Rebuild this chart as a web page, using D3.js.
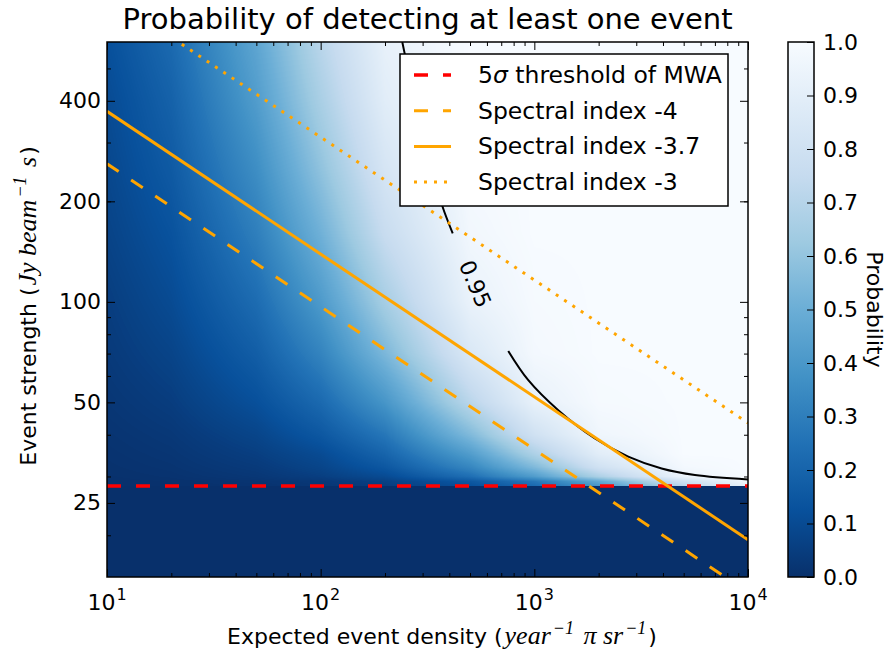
<!DOCTYPE html>
<meta charset="utf-8">
<style>
  body { margin: 0; background: #fff; }
  svg { display: block; font-family: "DejaVu Sans", sans-serif; }
  .math { font-family: "Liberation Serif", serif; font-style: italic; font-size: 26px; }
  .sup { font-family: "Liberation Serif", serif; font-style: italic; font-size: 18px; }
  .tick line { stroke: #000; stroke-width: 1; }
  .tick text { font-size: 22px; fill: #000; }
</style>
<body>
<script src="https://d3js.org/d3.v7.min.js"></script>
<script>

// expected event density (columns) and event strength (rows) of the probability grid
var densities = [10, 20, 50, 100, 200, 500, 1000, 2000, 5000, 10000];
var strengths = [600, 400, 250, 160, 100, 70, 50, 40, 35, 32, 30, 29, 28.1];

// probability of detecting at least one event
var probability = [
  [0.12, 0.22, 0.46, 0.71, 0.92, 1.00, 1.00, 1.00, 1.00, 1.00],
  [0.10, 0.19, 0.42, 0.66, 0.89, 1.00, 1.00, 1.00, 1.00, 1.00],
  [0.085, 0.16, 0.36, 0.59, 0.83, 0.99, 1.00, 1.00, 1.00, 1.00],
  [0.07, 0.13, 0.30, 0.51, 0.76, 0.97, 1.00, 1.00, 1.00, 1.00],
  [0.05, 0.10, 0.23, 0.41, 0.65, 0.93, 0.99, 1.00, 1.00, 1.00],
  [0.038, 0.074, 0.175, 0.32, 0.54, 0.85, 0.98, 1.00, 1.00, 1.00],
  [0.025, 0.049, 0.12, 0.22, 0.39, 0.71, 0.92, 0.99, 1.00, 1.00],
  [0.016, 0.031, 0.077, 0.15, 0.27, 0.55, 0.80, 0.96, 1.00, 1.00],
  [0.011, 0.022, 0.054, 0.10, 0.20, 0.42, 0.67, 0.89, 1.00, 1.00],
  [0.008, 0.016, 0.039, 0.077, 0.15, 0.33, 0.55, 0.80, 0.98, 1.00],
  [0.005, 0.011, 0.027, 0.054, 0.10, 0.24, 0.42, 0.67, 0.94, 1.00],
  [0.003, 0.006, 0.016, 0.031, 0.062, 0.15, 0.27, 0.47, 0.80, 0.96],
  [0.002, 0.005, 0.012, 0.025, 0.049, 0.12, 0.22, 0.39, 0.71, 0.92]
];

// 5 sigma detection threshold of MWA (below it nothing is detected)
var threshold = 28.1;

// spectral index lines, [density, strength] at both ends
var index4 = [[10, 259], [10000, 13.5]];
var index37 = [[10, 372], [10000, 19.4]];
var index3 = [[10, 834], [10000, 43.4]];

// 0.95 contour, split where its label sits
var contourUpper = [[241, 600], [247, 556], [304, 302], [350, 222], [372, 192.7], [415, 160.4]];
var contourLower = [[755, 71.3], [937, 58.3], [1294, 47.4], [1921, 39.0], [2750, 34.4],
                    [3941, 31.7], [5643, 30.3], [10000, 29.4]];

var xMajor = [10, 100, 1000, 10000];
var xExp = ["1", "2", "3", "4"];
var xMinor = [20, 30, 40, 50, 60, 70, 80, 90, 200, 300, 400, 500, 600, 700, 800, 900,
              2000, 3000, 4000, 5000, 6000, 7000, 8000, 9000];
var yMajor = [25, 50, 100, 200, 400];
var yMinor = [20, 30, 40, 60, 70, 80, 90, 200, 300, 500];
var cbTicks = [0, 0.1, 0.2, 0.3, 0.4, 0.5, 0.6, 0.7, 0.8, 0.9, 1.0];

var legendItems = ["threshold", "Spectral index -4", "Spectral index -3.7", "Spectral index -3"];

var width = 891, height = 651;
var pLeft = 107, pRight = 748, pTop = 42, pBottom = 577;

var x = d3.scaleLog().domain([10, 10000]).range([pLeft, pRight]);
var y = d3.scaleLog().domain([15, 600]).range([pBottom, pTop]);

var blues = ["#08306b", "#08519c", "#2171b5", "#4292c6", "#6baed6", "#9ecae1", "#c6dbef", "#deebf7", "#f7fbff"];
var color = d3.scaleLinear().domain(blues.map(function(d, i) { return i / 8; })).range(blues).clamp(true);

var svg = d3.select("body").append("svg")
    .attr("width", width)
    .attr("height", height);

var defs = svg.append("defs");
defs.append("clipPath").attr("id", "plot")
  .append("rect").attr("x", pLeft).attr("y", pTop).attr("width", pRight - pLeft).attr("height", pBottom - pTop);

// ---- heat map ----
var logD = densities.map(Math.log);
var logS = strengths.map(Math.log);

function probAt(d, s) {
  if (s < threshold) return 0;
  var ld = Math.log(d), ls = Math.log(s);
  var i = 0;
  while (i < logD.length - 2 && ld > logD[i + 1]) i++;
  var tx = Math.max(0, Math.min(1, (ld - logD[i]) / (logD[i + 1] - logD[i])));
  var j = 0;
  while (j < logS.length - 2 && ls < logS[j + 1]) j++;
  var ty = Math.max(0, Math.min(1, (logS[j] - ls) / (logS[j] - logS[j + 1])));
  var a = probability[j][i] * (1 - tx) + probability[j][i + 1] * tx;
  var b = probability[j + 1][i] * (1 - tx) + probability[j + 1][i + 1] * tx;
  return a * (1 - ty) + b * ty;
}

var lut = d3.range(256).map(function(k) { return d3.rgb(color(k / 255)); });
var cw = pRight - pLeft, ch = pBottom - pTop;
var canvas = document.createElement("canvas");
canvas.width = cw; canvas.height = ch;
var ctx = canvas.getContext("2d");
var img = ctx.createImageData(cw, ch);
for (var py = 0; py < ch; py++) {
  var s = y.invert(pTop + py + 0.5);
  for (var px = 0; px < cw; px++) {
    var p = probAt(x.invert(pLeft + px + 0.5), s);
    var c = lut[Math.round(Math.max(0, Math.min(1, p)) * 255)];
    var o = (py * cw + px) * 4;
    img.data[o] = c.r; img.data[o + 1] = c.g; img.data[o + 2] = c.b; img.data[o + 3] = 255;
  }
}
ctx.putImageData(img, 0, 0);

svg.append("image")
    .attr("x", pLeft).attr("y", pTop)
    .attr("width", cw).attr("height", ch)
    .attr("preserveAspectRatio", "none")
    .attr("href", canvas.toDataURL());

// ---- lines ----
var line = d3.line()
    .x(function(d) { return x(d[0]); })
    .y(function(d) { return y(d[1]); });

var curve = d3.line()
    .x(function(d) { return x(d[0]); })
    .y(function(d) { return y(d[1]); })
    .curve(d3.curveCatmullRom);

var plot = svg.append("g").attr("clip-path", "url(#plot)");

plot.append("path").datum(contourUpper).attr("d", curve)
    .attr("fill", "none").attr("stroke", "#000").attr("stroke-width", 2);
plot.append("path").datum(contourLower).attr("d", curve)
    .attr("fill", "none").attr("stroke", "#000").attr("stroke-width", 2);

plot.append("path").datum([[10, threshold], [10000, threshold]]).attr("d", line)
    .attr("fill", "none").attr("stroke", "#ff0000").attr("stroke-width", 3.5)
    .attr("stroke-dasharray", "14,15");
plot.append("path").datum(index4).attr("d", line)
    .attr("fill", "none").attr("stroke", "#ffa500").attr("stroke-width", 3)
    .attr("stroke-dasharray", "14,15");
plot.append("path").datum(index37).attr("d", line)
    .attr("fill", "none").attr("stroke", "#ffa500").attr("stroke-width", 3);
plot.append("path").datum(index3).attr("d", line)
    .attr("fill", "none").attr("stroke", "#ffa500").attr("stroke-width", 3)
    .attr("stroke-dasharray", "3,7");

// contour label
svg.append("text")
    .attr("transform", "translate(475,284) rotate(67)")
    .attr("text-anchor", "middle")
    .attr("dominant-baseline", "central")
    .style("font-size", "22px")
    .text("0.95");

// ---- axes ----
function ticks(axis, vals, size, tx, ty) {
  var g = svg.append("g").attr("transform", "translate(" + tx + "," + ty + ")")
    .call(axis.tickValues(vals).tickSize(size).tickFormat(""));
  g.select(".domain").remove();
  return g;
}
ticks(d3.axisBottom(x), xMajor, -8, 0, pBottom);
ticks(d3.axisBottom(x), xMinor, -4, 0, pBottom);
ticks(d3.axisTop(x), xMajor, -8, 0, pTop);
ticks(d3.axisTop(x), xMinor, -4, 0, pTop);
ticks(d3.axisLeft(y), yMajor, -8, pLeft, 0);
ticks(d3.axisLeft(y), yMinor, -4, pLeft, 0);
ticks(d3.axisRight(y), yMajor, -8, pRight, 0);
ticks(d3.axisRight(y), yMinor, -4, pRight, 0);

svg.append("rect")
    .attr("x", pLeft).attr("y", pTop).attr("width", pRight - pLeft).attr("height", pBottom - pTop)
    .attr("fill", "none").attr("stroke", "#000").attr("stroke-width", 1.5);

// y tick labels
svg.selectAll(".ylab").data(yMajor).enter().append("text")
    .attr("x", pLeft - 6)
    .attr("y", function(d) { return y(d); })
    .attr("text-anchor", "end")
    .attr("dominant-baseline", "central")
    .style("font-size", "22px")
    .text(function(d) { return d; });

// x tick labels as powers of ten
var xl = svg.selectAll(".xlab").data(xMajor).enter().append("text")
    .attr("x", function(d) { return x(d); })
    .attr("y", 610)
    .attr("text-anchor", "middle")
    .style("font-size", "22px");
xl.append("tspan").text("10");
xl.append("tspan").attr("dy", -10).attr("dx", 1).style("font-size", "16px")
    .text(function(d, i) { return xExp[i]; });

// axis titles
var xt = svg.append("text")
    .attr("x", 442).attr("y", 644)
    .attr("text-anchor", "middle")
    .style("font-size", "22px");
xt.append("tspan").text("Expected event density (");
xt.append("tspan").attr("class", "math").attr("dx", 2).text("year");
xt.append("tspan").attr("class", "sup").attr("dx", 2).attr("dy", -10).text("\u22121");
xt.append("tspan").attr("class", "math").attr("dx", 3).attr("dy", 10).text(" \u03c0 sr");
xt.append("tspan").attr("class", "sup").attr("dx", 2).attr("dy", -10).text("\u22121");
xt.append("tspan").attr("dx", 2).attr("dy", 10).text(")");

var yt = svg.append("text")
    .attr("transform", "translate(36,306) rotate(-90)")
    .attr("text-anchor", "middle")
    .style("font-size", "22px");
yt.append("tspan").text("Event strength (");
yt.append("tspan").attr("class", "math").attr("dx", 2).text("Jy beam");
yt.append("tspan").attr("class", "sup").attr("dx", 2).attr("dy", -10).text("\u22121");
yt.append("tspan").attr("class", "math").attr("dx", 3).attr("dy", 10).text(" s");
yt.append("tspan").attr("dx", 2).text(")");

svg.append("text")
    .attr("x", (pLeft + pRight) / 2).attr("y", 29)
    .attr("text-anchor", "middle")
    .style("font-size", "29px")
    .text("Probability of detecting at least one event");

// ---- legend ----
var lg = svg.append("g");
lg.append("rect").attr("x", 400).attr("y", 54).attr("width", 328).attr("height", 152)
    .attr("fill", "#fff").attr("stroke", "#000").attr("stroke-width", 1.5);
var styles = [
  { stroke: "#ff0000", dash: "14,15", w: 3.5 },
  { stroke: "#ffa500", dash: "14,15", w: 3 },
  { stroke: "#ffa500", dash: null, w: 3 },
  { stroke: "#ffa500", dash: "3,7", w: 3 }
];
legendItems.forEach(function(name, i) {
  var cy = 75 + i * 35.7;
  lg.append("line").attr("x1", 414).attr("x2", 451).attr("y1", cy).attr("y2", cy)
      .attr("stroke", styles[i].stroke).attr("stroke-width", styles[i].w)
      .attr("stroke-dasharray", styles[i].dash);
  var t = lg.append("text").attr("x", 478).attr("y", cy)
      .attr("dominant-baseline", "central").style("font-size", "23.5px");
  if (i === 0) {
    t.append("tspan").text("5");
    t.append("tspan").style("font-style", "italic").text("\u03c3");
    t.append("tspan").text(" threshold of MWA");
  } else {
    t.text(name);
  }
});

// ---- colour bar ----
var cbX = 788, cbW = 26;
var cb = d3.scaleLinear().domain([0, 1]).range([pBottom, pTop]);
var grad = defs.append("linearGradient").attr("id", "cbgrad")
    .attr("x1", 0).attr("y1", 1).attr("x2", 0).attr("y2", 0);
blues.forEach(function(c, i) {
  grad.append("stop").attr("offset", i / 8).attr("stop-color", c);
});
svg.append("rect").attr("x", cbX).attr("y", pTop).attr("width", cbW).attr("height", pBottom - pTop)
    .attr("fill", "url(#cbgrad)").attr("stroke", "#000").attr("stroke-width", 1.5);
var cbAxis = svg.append("g").attr("transform", "translate(" + (cbX + cbW) + ",0)")
    .call(d3.axisRight(cb).tickValues(cbTicks).tickSize(-7).tickPadding(9).tickFormat(d3.format(".1f")));
cbAxis.select(".domain").remove();
cbAxis.selectAll("text").style("font-family", "DejaVu Sans");

svg.append("text")
    .attr("transform", "translate(867," + (pTop + pBottom) / 2 + ") rotate(90)")
    .attr("text-anchor", "middle")
    .style("font-size", "22px")
    .text("Probability");

</script>
</body>
